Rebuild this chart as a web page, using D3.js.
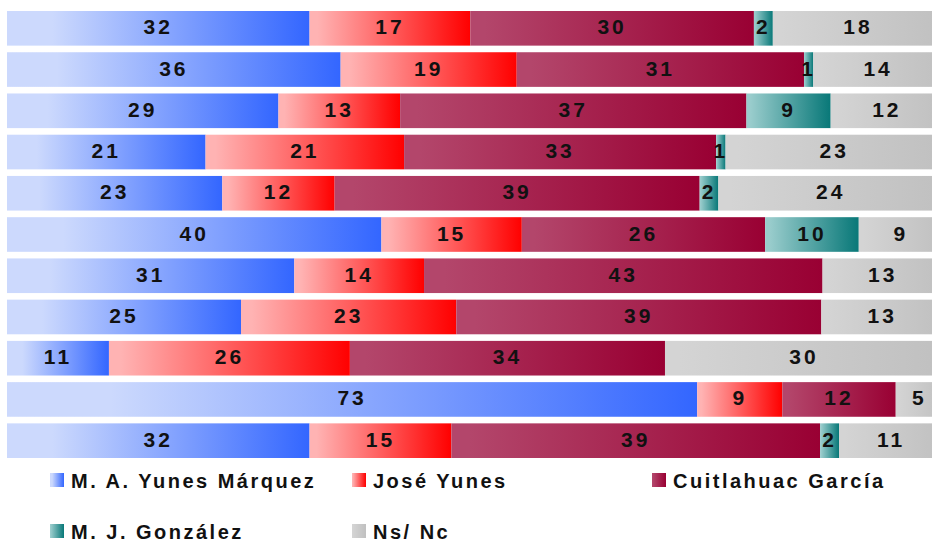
<!DOCTYPE html>
<html>
<head>
<meta charset="utf-8">
<script src="https://cdn.jsdelivr.net/npm/d3@7"></script>
<style>
  body { margin: 0; background: #fff; }
  svg { display: block; }
  text { font-family: "Liberation Sans", Arial, sans-serif; font-weight: bold; fill: #111; }
</style>
</head>
<body>
<svg id="chart"></svg>
<script>
// one row per bar, top to bottom
var rows = ["r1", "r2", "r3", "r4", "r5", "r6", "r7", "r8", "r9", "r10", "r11"];
var yunesMarquez = [32, 36, 29, 21, 23, 40, 31, 25, 11, 73, 32];
var joseYunes    = [17, 19, 13, 21, 12, 15, 14, 23, 26, 9, 15];
var cuitlahuac   = [30, 31, 37, 33, 39, 26, 43, 39, 34, 12, 39];
var gonzalez     = [2, 1, 9, 1, 2, 10, 0, 0, 0, 0, 2];
var nsnc         = [18, 14, 12, 23, 24, 9, 13, 13, 30, 5, 11];

var seriesNames = ["M. A. Yunes Márquez", "José Yunes", "Cuitlahuac García", "M. J. González", "Ns/ Nc"];
var seriesValues = [yunesMarquez, joseYunes, cuitlahuac, gonzalez, nsnc];
var gradStops = [
  ["#ccd9fd", "#3366ff"],
  ["#ffb3b3", "#ff0000"],
  ["#b3466b", "#990033"],
  ["#99cccc", "#087878"],
  ["#d4d4d4", "#c0c0c0"]
];

var width = 932, height = 542;
var svg = d3.select("#chart").attr("width", width).attr("height", height);

var table = rows.map(function (r, i) {
  var o = { row: r };
  seriesNames.forEach(function (s, j) { o[s] = seriesValues[j][i]; });
  return o;
});

var stack = d3.stack().keys(seriesNames).offset(d3.stackOffsetExpand);
var layers = stack(table);

var x = d3.scaleLinear().domain([0, 1]).range([7, 943]);
var y = d3.scaleBand().domain(rows).range([11, 458]).paddingInner(0.16).paddingOuter(0);

var defs = svg.append("defs");
seriesNames.forEach(function (s, j) {
  var g = defs.append("linearGradient").attr("id", "g" + j)
    .attr("x1", 0).attr("x2", 1).attr("y1", 0).attr("y2", 0);
  g.append("stop").attr("offset", 0).attr("stop-color", gradStops[j][0]);
  g.append("stop").attr("offset", j === 0 ? 0.15 : 0.05).attr("stop-color", gradStops[j][0]);
  g.append("stop").attr("offset", 1).attr("stop-color", gradStops[j][1]);
});

var layer = svg.selectAll(".layer")
  .data(layers)
  .enter().append("g")
  .attr("class", "layer")
  .style("fill", function (d, j) { return "url(#g" + j + ")"; });

layer.selectAll("rect")
  .data(function (d) { return d.filter(function (p) { return p.data[d.key] > 0; }); })
  .enter().append("rect")
  .attr("x", function (d) { return x(d[0]); })
  .attr("width", function (d) { return x(d[1]) - x(d[0]); })
  .attr("y", function (d) { return y(d.data.row); })
  .attr("height", y.bandwidth());

layers.forEach(function (l) {
  svg.append("g").selectAll("text")
    .data(l.filter(function (p) { return p.data[l.key] > 0; }))
    .enter().append("text")
    .attr("x", function (d) { return (x(d[0]) + x(d[1])) / 2; })
    .attr("y", function (d) { return y(d.data.row) + y.bandwidth() / 2 + 6; })
    .attr("text-anchor", "middle")
    .style("font-size", "21px")
    .style("letter-spacing", "3px")
    .text(function (d) { return d.data[l.key]; });
});

// legend
var legendPos = [[50, 473], [352, 473], [652, 473], [50, 524], [352, 524]];
var legend = svg.selectAll(".legend")
  .data(seriesNames)
  .enter().append("g")
  .attr("class", "legend")
  .attr("transform", function (d, j) { return "translate(" + legendPos[j][0] + "," + legendPos[j][1] + ")"; });

legend.append("rect")
  .attr("width", 14).attr("height", 14)
  .style("fill", function (d, j) { return "url(#g" + j + ")"; });

legend.append("text")
  .attr("x", 21).attr("y", 15)
  .style("font-size", "20px")
  .style("letter-spacing", "2.5px")
  .text(function (d) { return d; });
</script>
</body>
</html>
